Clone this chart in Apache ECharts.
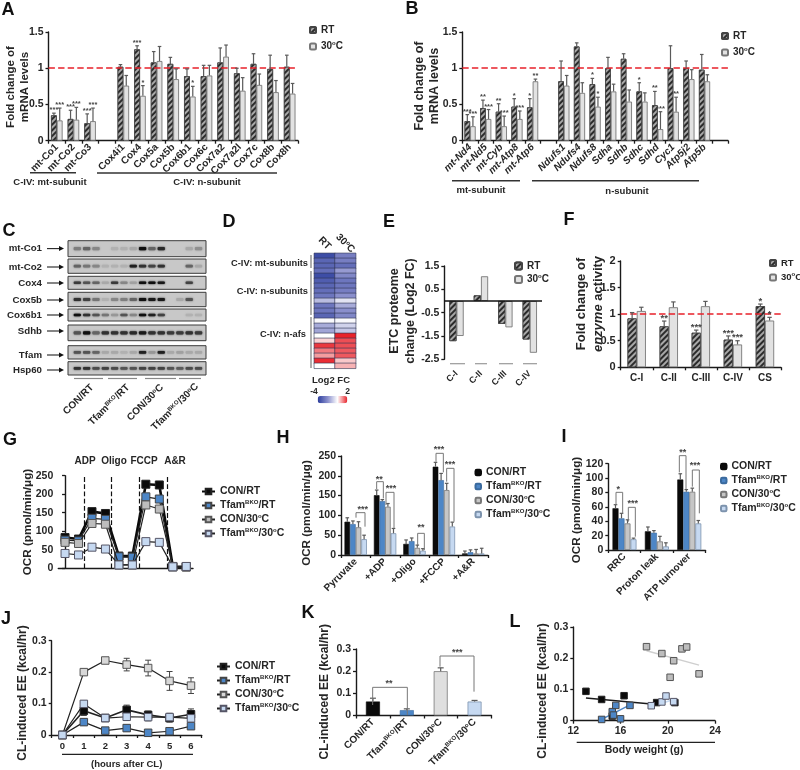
<!DOCTYPE html>
<html><head><meta charset="utf-8">
<style>html,body{margin:0;padding:0;background:#fff}#c{width:800px;height:770px;filter:blur(.35px)}</style>
<script src="https://cdn.jsdelivr.net/npm/echarts@6/dist/echarts.min.js"></script></head>
<body><div id="c"></div>
<script>
// ---------- DATA ----------
const aCats=['mt-Co1','mt-Co2','mt-Co3','','Cox4i1','Cox4','Cox5a','Cox5b','Cox6b1','Cox6c','Cox7a2','Cox7a2l','Cox7c','Cox8b','Cox8h'];
const aRT=[.35,.30,.24,null,1.02,1.26,1.08,1.06,.89,.89,1.08,.93,1.06,.99,1.02];
const a30=[.28,.29,.27,null,.76,.62,1.10,.85,.61,.90,1.16,.69,.77,.67,.65];
const aErrRT=[.03,.12,.13,0,.03,.05,.15,.09,.10,.15,.20,.07,.14,.19,.16];
const aErr30=[.17,.17,.18,0,.14,.14,.20,.14,.14,.14,.16,.18,.15,.16,.14];
const aStarRT=['***','***','***','','','***','','','','','','','','',''];
const aStar30=['***','***','***','','','*','','','*','','','','','',''];
const bCats=['mt-Nd4','mt-Nd5','mt-Cyb','mt-Atp8','mt-Atp6','','Ndufs1','Ndufs4','Ndufs8','Sdha','Sdhb','Sdhc','Sdhd','Cyc1','Atp5j2','Atp5b',' '];
const bRT=[.27,.45,.40,.47,.46,null,.82,1.30,.78,1.00,1.13,.68,.49,1.00,1.00,.98,null];
const b30=[.20,.30,.20,.30,.82,null,.76,.66,.47,.68,.54,.54,.16,.40,.85,.82,null];
const bErrRT=[.09,.11,.11,.11,.12,0,.28,.05,.08,.15,.07,.12,.19,.31,.10,.21,0];
const bErr30=[.13,.13,.14,.11,.03,0,.14,.14,.13,.10,.16,.12,.24,.20,.13,.09,0];
const bStarRT=['***','**','**','*','*','','','','*','','','*','**','','','',''];
const bStar30=['***','***','***','***','**','','','','*','','','','***','**','','',''];
const blotNames=['mt-Co1','mt-Co2','Cox4','Cox5b','Cox6b1','Sdhb','Tfam','Hsp60'];
const blotCo1=[.35,.5,.3,0,.05,.05,.1,1,.5,.85,0,0,.1,.25];
const blotCo2=[.5,.4,.3,.05,.05,.05,.9,.8,.7,.8,0,0,.5,.1];
const blotCox4=[.75,.6,.5,.1,.75,.3,.15,1,1,.95,0,0,.7,0];
const blotCox5b=[.8,.7,.4,.05,.3,.35,.5,1,.95,.95,0,.1,.6,0];
const blotCox6b1=[1,.8,.6,.4,.2,.6,.3,1,.9,.7,0,0,.05,.05];
const blotSdhb=[.6,1,.5,.8,.8,.8,.85,.95,.8,.8,.75,.75,.8,.75];
const blotTfam=[.6,.6,.5,.1,.1,.05,.1,.9,.2,.9,.1,.15,.1,.1];
const blotHsp60=[.8,.8,.65,.7,.65,.6,.6,.7,.7,.7,.6,.55,.65,.65];
const dCols=['RT','30°C'];
const dRT=[-3.6,-3,-3,-2.8,-3.6,-3.2,-3,-2.8,-2.6,-1.2,-2.6,-2.6,-3,-.1,-1.5,-1.6,0,.4,1.8,1.2,.9,1.9,0];
const d30=[-2.4,-2.4,-2.8,-1.8,-2.2,-2.6,-2.6,-2.4,-2,-.5,-1.5,-2,-2.2,-.1,-.8,-1,2,1.6,1.6,1.5,1.5,.5,.7];
const eCats=['C-I','C-II','C-III','C-IV'];
const eRT=[-1.72,.24,-.98,-1.65];
const e30=[-1.5,1.06,-1.13,-2.22];
const fCats=['C-I','C-II','C-III','C-IV','CS'];
const fRT=[.92,.77,.65,.52,1.15];
const f30=[1.06,1.13,1.15,.43,.88];
const fErrRT=[.11,.1,.05,.07,.04];
const fErr30=[.07,.1,.09,.07,.06];
const fStarRT=['','**','***','***','*'];
const fStar30=['','','','***','*'];
const gX=[0,1,2,3,4,5,6,7,8,9];
const gCon=[83,79,153,148,33,33,227,225,5,4];
const gTfam=[76,74,135,132,31,30,193,187,4,4];
const gCon30=[70,67,121,119,9,9,171,160,4,4];
const gTfam30=[40,36,57,52,9,9,72,70,4,5];
const gErr=[3,3,4,4,2,2,4,4,1,1];
const gMarks=[1.45,3.45,5.5,7.6];
const gMarkNames=['ADP','Oligo','FCCP','A&R'];
const hCats=['Pyruvate','+ADP','+Oligo','+FCCP','+A&R'];
const hCon=[84,151,28,223,4];
const hTfam=[78,136,35,189,7];
const hCon30=[70,122,18,164,4];
const hTfam30=[40,55,11,72,4];
const hErr=[[10,13,10,11,6],[8,4,8,17,6],[14,8,7,17,10],[10,12,5,11,13]];
const iCats=['RRC','Proton leak','ATP turnover'];
const iCon=[58,26,98];
const iTfam=[44,24,81];
const iCon30=[37,12,81];
const iTfam30=[15,5,37];
const iErr=[[5,6,8],[7,3,3],[5,7,5],[1.5,5,4]];
const jCats=['0','1','2','3','4','5','6'];
const jCon=[0,.077,.054,.08,.064,.054,.066];
const jTfam=[0,.041,.014,.022,.007,.012,.028];
const jCon30=[0,.2,.237,.224,.213,.172,.157];
const jTfam30=[0,.099,.054,.058,.057,.057,.053];
const jErr=[[0,.015,.008,.015,.012,.013,.017],[0,.01,.005,.01,.005,.008,.01],[0,.01,.008,.02,.025,.03,.025],[0,.01,.01,.012,.012,.012,.012]];
const kVals=[.063,.024,.2,.063];
const kErr=[.015,.006,.015,.005];
const lCon=[[13.07,.094],[14.4,.068],[16.3,.08],[15.3,.015],[19.06,.058],[20.6,.058]];
const lTfam=[[14.4,.004],[15.3,.029],[15.6,.049],[15.4,.018],[16,.006],[16.8,.049]];
const lCon30=[[18.2,.237],[19.5,.215],[20.5,.192],[20.2,.139],[21.2,.23],[21.6,.236],[22.65,.15]];
const lTfam30=[[18.6,.048],[19.5,.06],[19.85,.079],[20.5,.061]];
const lFitCon=[[13.07,.0725],[19.06,.052]];
const lFitTfam=[[14.4,.004],[16.8,.051]];
const lFitCon30=[[18.2,.224],[22.65,.178]];
const lFitTfam30=[[18.6,.045],[20.5,.068]];
const groups4=['CON/RT','TfamBKO/RT','CON/30°C','TfamBKO/30°C'];

// ---------- HELPERS ----------
const FF='"Liberation Sans",Arial,sans-serif', INK='#262626';
const grids=[],xAxes=[],yAxes=[],series=[],legends=[],gfx=[];
const supRich={s:{fontSize:6,fontWeight:'bold',fontFamily:FF,color:INK,verticalAlign:'top',padding:[0,0,3,0]}};
const supLeg={s:{fontSize:6,fontWeight:'bold',fontFamily:FF,color:INK,verticalAlign:'bottom',padding:[0,0,7,0]}};
function fmt(n){return n.replace('BKO','{s|BKO}').replace('°','{s|o}');}
const axisLine={show:true,lineStyle:{color:'#1a1a1a',width:1.4}};
const axisTick={show:true,length:3,lineStyle:{color:'#1a1a1a',width:1.3}};
function yAx(g,min,max,interval,fs){return {gridIndex:g,type:'value',min,max,interval,splitLine:{show:false},axisLine,axisTick,
  axisLabel:{fontFamily:FF,fontWeight:'bold',fontSize:fs||10.5,color:INK,margin:5}};}
function catAx(g,cats,o){o=o||{};return {gridIndex:g,type:'category',data:cats,splitLine:{show:false},axisLine,axisTick,
  axisLabel:Object.assign({fontFamily:FF,fontWeight:'bold',fontSize:10,color:INK,rotate:45,margin:5,interval:0,rich:supRich,formatter:fmt},o)};}
function addGrid(l,t,r,b){grids.push({left:l,top:t,width:r-l,height:b-t});return grids.length-1;}
const hatch={symbol:'rect',symbolSize:1,dashArrayX:[1,0],dashArrayY:[2,2],rotation:-Math.PI/4,color:'#2b2b2b',backgroundColor:'#a8a8a8'};
const RTs={color:'#555',borderColor:'#444',borderWidth:.8,decal:hatch};
const T30s={color:'#e2e2e2',borderColor:'#777',borderWidth:.9};
const C4=[{color:'#0a0a0a',borderColor:'#0a0a0a',borderWidth:.6},{color:'#4d86c6',borderColor:'#3a6a9e',borderWidth:.6},{color:'#c6c6c6',borderColor:'#777',borderWidth:.8},{color:'#c6d9f1',borderColor:'#7d93ad',borderWidth:.8}];
function errRender(off,capW,stars,starFs){return (p,api)=>{
  const v=api.value(1); if(v==null||isNaN(v))return;
  const i=api.value(0),e=api.value(2)||0,base=api.coord([i,v]),top=api.coord([i,v+e]);
  const x=base[0]+off,ch=[];
  if(e>0)ch.push({type:'line',shape:{x1:x,y1:base[1],x2:x,y2:top[1]},style:{stroke:'#5a5a5a',lineWidth:1.2}},
    {type:'line',shape:{x1:x-capW,y1:top[1],x2:x+capW,y2:top[1]},style:{stroke:'#5a5a5a',lineWidth:1.2}});
  const st=stars&&stars[p.dataIndex];
  if(st)ch.push({type:'text',style:{text:st,x:x,y:top[1]-3,align:'center',verticalAlign:'middle',fill:'#444',font:'bold '+(starFs||8)+'px '+FF}});
  return {type:'group',children:ch};
};}
function barPanel(g,prefix,names,vals,errs,stars,styles,barW,capW,starFs,extra){
  const n=names.length;
  vals.forEach((v,k)=>{
    const s={type:'bar',name:prefix+'|'+names[k],xAxisIndex:g,yAxisIndex:g,data:v.slice(),barWidth:barW,barGap:'0%',itemStyle:styles[k],silent:true};
    if(k===0&&extra)s.markLine=extra;
    series.push(s);
  });
  vals.forEach((v,k)=>{
    if(!errs||!errs[k])return;
    const off=(k-(n-1)/2)*barW;
    series.push({type:'custom',xAxisIndex:g,yAxisIndex:g,silent:true,z:5,clip:false,
      encode:{x:0,y:1},data:v.map((y,i)=>[i,y==null?'-':y,errs[k][i]]),
      renderItem:errRender(off,capW,stars&&stars[k],starFs)});
  });
}
function linePanelErr(g,yv,err){
  series.push({type:'custom',xAxisIndex:g,yAxisIndex:g,silent:true,z:1,clip:false,encode:{x:0,y:1},
    data:yv.map((y,i)=>[i,y,err[i]]),
    renderItem:(p,api)=>{const i=api.value(0),y=api.value(1),e=api.value(2);if(!e)return;
      const a=api.coord([i,y-e]),b=api.coord([i,y+e]);
      return {type:'group',children:[{type:'line',shape:{x1:a[0],y1:a[1],x2:b[0],y2:b[1]},style:{stroke:'#444',lineWidth:1}},
        {type:'line',shape:{x1:a[0]-3,y1:a[1],x2:a[0]+3,y2:a[1]},style:{stroke:'#444',lineWidth:1}},
        {type:'line',shape:{x1:b[0]-3,y1:b[1],x2:b[0]+3,y2:b[1]},style:{stroke:'#444',lineWidth:1}}]};}});
}
const redLine={silent:true,symbol:'none',animation:false,data:[{yAxis:1}],label:{show:false},lineStyle:{color:'#e8202a',type:'dashed',width:1.6}};
function T(text,x,y,o){o=o||{};gfx.push({type:'text',x,y,rotation:o.rot||0,silent:true,z:20,style:{text,x:0,y:0,align:o.align||'center',verticalAlign:'middle',
  font:'bold '+(o.fs||10.5)+'px '+FF,fill:o.fill||INK,lineHeight:o.lh,rich:o.rich}});}
function L(x1,y1,x2,y2,c,w){gfx.push({type:'line',silent:true,z:20,shape:{x1,y1,x2,y2},style:{stroke:c||'#333',lineWidth:w||1.4}});}
function yTitle(text,x,y,fs,lh){const r={s:{font:'bold '+fs+'px '+FF,fill:INK,lineHeight:lh||fs+2},i:{font:'italic bold '+fs+'px '+FF,fill:INK,lineHeight:lh||fs+2}};
  gfx.push({type:'text',x,y,rotation:Math.PI/2,silent:true,z:20,style:{text,x:0,y:0,align:'center',verticalAlign:'middle',font:'bold '+fs+'px '+FF,fill:INK,lineHeight:lh||fs+2,rich:r}});}
function brk(ox,oy,z1,z2,top,d1,d2,txt,tx,ty){
  const X=z=>ox+z/3,Y=z=>oy+z/3;
  gfx.push({type:'polyline',silent:true,z:20,shape:{points:[[X(z1),Y(d1)],[X(z1),Y(top)],[X(z2),Y(top)],[X(z2),Y(d2)]]},style:{stroke:'#777',lineWidth:1,fill:null}});
  T(txt,X(tx),Y(ty),{fs:9,fill:'#444'});
}
function leg(prefix,names,left,top,gap,w,h,fs){legends.push({show:true,orient:'vertical',left,top,padding:0,itemGap:gap,itemWidth:w,itemHeight:h,selectedMode:false,
  data:names.map(n=>prefix+'|'+n),formatter:n=>fmt(n.split('|').slice(1).join('|')),
  textStyle:{fontFamily:FF,fontWeight:'bold',fontSize:fs||10,color:INK,rich:supLeg,padding:[0,0,0,0]}});}

// ---------- PANELS ----------
// A
let g=addGrid(48.5,32,298,140.7);
xAxes.push(catAx(g,aCats));yAxes.push(yAx(g,0,1.5,.5));
barPanel(g,'A',['RT','30°C'],[aRT,a30],[aErrRT,aErr30],[aStarRT,aStar30],[RTs,T30s],5.8,1.8,7.5,redLine);
leg('A',['RT','30°C'],309,25,5,6,6);
yTitle('Fold change of\nmRNA levels',17.5,87,11.5,14);
L(30,172.7,76,172.7);L(97,173,277,173);
T('C-IV: mt-subunit',50,182,{fs:9.5});T('C-IV: n-subunit',207,182,{fs:9.5});
// B
g=addGrid(462.3,32,728,140.7);
xAxes.push(catAx(g,bCats,{fontStyle:'italic'}));yAxes.push(yAx(g,0,1.5,.5));
barPanel(g,'B',['RT','30°C'],[bRT,b30],[bErrRT,bErr30],[bStarRT,bStar30],[RTs,T30s],5.6,1.8,7.5,redLine);
leg('B',['RT','30°C'],721,31,5,6,6);
yTitle('Fold change of\nmRNA levels',427.5,86,12.5,15);
L(452,180.7,520,180.7);L(532,180.7,699,180.7);
T('mt-subunit',481,190,{fs:9.5});T('n-subunit',627,191,{fs:9.5});
// C blots
const blotRows=[[blotCo1,240.7,256.7,248.6],[blotCo2,259,273.3,267],[blotCox4,276.3,289.3,283],[blotCox5b,292.3,306.7,300],[blotCox6b1,309,321,315],[blotSdhb,325,340.7,331],[blotTfam,345.7,359,355],[blotHsp60,361.7,375,370]];
blotRows.forEach((r,k)=>{
  const gi=grids.length;
  grids.push({left:68,top:r[1],width:138,height:r[2]-r[1],show:true,backgroundColor:'#c8c8c8',borderColor:'#3a3a3a',borderWidth:1});
  xAxes.push({gridIndex:gi,type:'value',min:-1,max:13.8,show:false});
  yAxes.push({gridIndex:gi,type:'value',min:0,max:1,show:false});
  series.push({type:'custom',xAxisIndex:gi,yAxisIndex:gi,silent:true,encode:{x:0,y:1},data:r[0].map((v,i)=>[i,v]),
    renderItem:(p,api)=>{const v=api.value(1);if(v<.03)return;const c=api.coord([api.value(0),.5]),w=api.size([.78,0])[0],h=api.size([0,.2])[1];
      const lv=Math.round(185-170*v),col='rgb('+lv+','+lv+','+lv+')';
      return {type:'rect',shape:{x:c[0]-w/2,y:c[1]-h/2,width:w,height:h,r:1},style:{fill:col,shadowBlur:2,shadowColor:col}};}});
  T(blotNames[k],42,r[3],{align:'right',fs:9.7});
  L(47,r[3],60,r[3],'#222',1.1);
  gfx.push({type:'polygon',silent:true,z:20,shape:{points:[[59,r[3]-2.5],[64,r[3]],[59,r[3]+2.5]]},style:{fill:'#111'}});
});
[[74,103],[108,137],[145,176],[179,201]].forEach(s=>L(s[0],378.5,s[1],378.5,'#888',1.2));
const blotEnd=[[92,386],[128,386],[162,386],[197,385]];
const supG={s:{font:'bold 6px '+FF,fill:INK,verticalAlign:'top',padding:[0,0,3,0]}};
groups4.forEach((n,k)=>T(fmt(n),blotEnd[k][0],blotEnd[k][1],{rot:Math.PI/4,align:'right',fs:10,rich:supG}));
// D heatmap
g=addGrid(314.3,253.3,355.7,368.3);
const dRows=dRT.map((_,i)=>String(i));
xAxes.push({gridIndex:g,type:'category',data:dCols,position:'top',axisLine:{show:false},axisTick:{show:false},
  axisLabel:{fontFamily:FF,fontWeight:'bold',fontSize:10,color:INK,rotate:45,margin:10,align:'center',verticalAlign:'middle',interval:0,rich:supRich,formatter:fmt}});
yAxes.push({gridIndex:g,type:'category',data:dRows,inverse:true,show:false});
const dIdx=series.length;
series.push({type:'heatmap',xAxisIndex:g,yAxisIndex:g,silent:true,
  data:dRT.map((v,i)=>[0,i,v]).concat(d30.map((v,i)=>[1,i,v])),
  itemStyle:{borderColor:'#2e3350',borderWidth:.6}});
L(311,255,311,268,'#777',1.2);L(311,271,311,315,'#777',1.2);L(311,317,311,368,'#777',1.2);
T('C-IV: mt-subunits',308,263,{align:'right',fs:9.3});T('C-IV: n-subunits',308,291,{align:'right',fs:9.3});T('C-IV: n-afs',306,334,{align:'right',fs:9.3});
T('Log2 FC',331,380,{fs:9.5});T('-4',314,391.5,{fs:8.5});T('2',347.7,391.5,{fs:8.5});
// E
g=addGrid(444.3,266,542,359.3);
xAxes.push(catAx(g,eCats,{margin:13,fontSize:9}));xAxes[xAxes.length-1].axisLine={show:false};xAxes[xAxes.length-1].axisTick={show:false};
yAxes.push(yAx(g,-2.5,1.5,1));
barPanel(g,'E',['RT','30°C'],[eRT,e30],null,null,[RTs,T30s],7.2,0,0,{silent:true,symbol:'none',animation:false,data:[{yAxis:0}],label:{show:false},lineStyle:{color:'#111',type:'solid',width:1.6}});
leg('E',['RT','30°C'],514,261,2,7,7);
yTitle('ETC proteome\nchange (Log2 FC)',403,311,12.5,16);
[[450,465],[475,487],[499,513],[523,537]].forEach(s=>L(s[0],363.7,s[1],363.7,'#999',1.2));
// F
g=addGrid(620.7,261,781,367.3);
xAxes.push(catAx(g,fCats,{rotate:0,margin:6}));yAxes.push(yAx(g,0,2,.5,11));
barPanel(g,'F',['RT','30°C'],[fRT,f30],[fErrRT,fErr30],[fStarRT,fStar30],[RTs,T30s],9.2,2.2,9.5,redLine);
leg('F',['RT','30°C'],769,258,3,6,6,9.5);
yTitle('{s|Fold change of}\n{i|enzyme} {s|activity}',590,304,13,17);
// G
g=addGrid(58.3,475.7,193,568.3);
xAxes.push({gridIndex:g,type:'value',min:-.5,max:9.5,interval:1,splitLine:{show:false},axisLine,axisTick:{show:false},axisLabel:{show:false}});
yAxes.push(yAx(g,0,250,50));
const lineStyles=[{c:'#0a0a0a',w:2.6},{c:'#222',w:1.2},{c:'#222',w:1.2},{c:'#222',w:1.2}];
const markerFill=['#0a0a0a','#4d86c6','#bdbdbd','#c6d9f1'];
const markerBorder=['#222','#444','#555','#556'];
[gCon,gTfam,gCon30,gTfam30].forEach((v,k)=>linePanelErr(g,v,gErr));
[gCon,gTfam,gCon30,gTfam30].forEach((v,k)=>{
  const s={type:'line',name:'G|'+groups4[k],xAxisIndex:g,yAxisIndex:g,data:v.map((y,i)=>[gX[i],y]),symbol:'rect',symbolSize:8,silent:true,
    lineStyle:{color:lineStyles[k].c,width:lineStyles[k].w},itemStyle:{color:markerFill[k],borderColor:markerBorder[k],borderWidth:1},z:3+k};
  if(k===0)s.markLine={silent:true,symbol:'none',animation:false,label:{show:false},data:gMarks.map(m=>({xAxis:m})),lineStyle:{color:'#111',type:'dashed',width:1.2}};
  series.push(s);
});
leg('G',groups4,201,486,2,13,7,10.5);
yTitle('OCR (pmol/min/μg)',28,522,11.7);
[85,114,144,175].forEach((x,k)=>T(gMarkNames[k],x,461,{fs:10}));
// H
g=addGrid(341,456,488,555);
xAxes.push(catAx(g,hCats));yAxes.push(yAx(g,0,250,50));
barPanel(g,'H',groups4,[hCon,hTfam,hCon30,hTfam30],hErr,null,C4,5.6,1.8);
leg('H',groups4,474.5,467,2,5.5,5.5,10.5);
yTitle('OCR (pmol/min/μg)',306.7,513,11.6);
brk(270,385,258,285,383,398,425,'***',278,373);
brk(270,385,320,340,290,312,340,'**',328,283);
brk(270,385,348,372,322,360,430,'***',363,311);
brk(270,385,443,463,445,480,495,'**',453,428);
brk(270,385,498,520,205,230,262,'***',507,195);
brk(270,385,530,552,250,290,410,'***',540,238);
// I
g=addGrid(608.3,463.7,705.5,550);
xAxes.push(catAx(g,iCats));yAxes.push(yAx(g,0,120,20));
barPanel(g,'I',groups4,[iCon,iTfam,iCon30,iTfam30],iErr,null,C4,6,1.8);
leg('I',groups4,720,461,2,5.5,5.5,10.5);
yTitle('OCR (pmol/min/μg)',577,510,11.7);
brk(530,385,258,278,322,360,385,'*',265,315);
brk(530,385,295,316,367,410,455,'***',308,355);
brk(530,385,448,468,212,262,312,'**',458,203);
brk(530,385,487,508,255,305,385,'***',495,242);
// J
g=addGrid(51.7,640.7,201.7,737.3);
xAxes.push(Object.assign(catAx(g,jCats,{rotate:0,margin:6,fontSize:9.5}),{name:'(hours after CL)',nameLocation:'middle',nameGap:24,nameTextStyle:{fontFamily:FF,fontWeight:'bold',fontSize:9.5,color:INK}}));
yAxes.push(yAx(g,0,.3,.1));
[jCon,jTfam,jCon30,jTfam30].forEach((v,k)=>linePanelErr(g,v,jErr[k]));
[jCon,jTfam,jCon30,jTfam30].forEach((v,k)=>series.push({type:'line',name:'J|'+groups4[k],xAxisIndex:g,yAxisIndex:g,data:v.slice(),symbol:'rect',symbolSize:7.5,silent:true,
  lineStyle:{color:'#222',width:k===0?1.6:1.2},itemStyle:{color:markerFill[k]==='#bdbdbd'?'#d8d8d8':markerFill[k],borderColor:markerBorder[k],borderWidth:1},z:3+k}));
leg('J',groups4,216,661,2,13,7,10.5);
yTitle('CL-induced EE (kcal/hr)',22.7,693,12);
L(62,754.3,193,754.3,'#222',1.2);
// K
g=addGrid(356,649,491.5,721.7);
xAxes.push(catAx(g,groups4));yAxes.push(yAx(g,0,.3,.1));
series.push({type:'bar',xAxisIndex:g,yAxisIndex:g,silent:true,barWidth:14,
  data:kVals.map((v,i)=>({value:v,itemStyle:i===2?{color:'#dfdfdf',borderColor:'#777',borderWidth:.8}:C4[i===3?3:i]}))});
series.push({type:'custom',xAxisIndex:g,yAxisIndex:g,silent:true,z:5,encode:{x:0,y:1},data:kVals.map((y,i)=>[i,y,kErr[i]]),renderItem:errRender(0,3,null)});
yTitle('CL-induced EE (kcal/hr)',325,691.7,12);
brk(270,580,308,412,322,375,405,'**',357,310);
brk(270,580,510,612,228,260,335,'***',562,217);
// L
g=addGrid(573.3,627,715,720.7);
xAxes.push({gridIndex:g,type:'value',min:12,max:24,interval:4,splitLine:{show:false},axisLine,axisTick,
  axisLabel:{fontFamily:FF,fontWeight:'bold',fontSize:10.5,color:INK,margin:5},
  name:'Body weight (g)',nameLocation:'middle',nameGap:24,nameTextStyle:{fontFamily:FF,fontWeight:'bold',fontSize:10.5,color:INK}});
yAxes.push(yAx(g,0,.3,.1));
[[lFitCon,'#1a1a1a',1.4],[lFitTfam,'#4d86c6',1.4],[lFitCon30,'#cfcfcf',1.4],[lFitTfam30,'#c6d9f1',1.4]].forEach(a=>series.push({type:'line',xAxisIndex:g,yAxisIndex:g,silent:true,symbol:'none',data:a[0],lineStyle:{color:a[1],width:a[2]},z:2}));
[lCon,lTfam,lCon30,lTfam30].forEach((d,k)=>series.push({type:'scatter',xAxisIndex:g,yAxisIndex:g,silent:true,symbol:'rect',symbolSize:6.5,data:d,itemStyle:{color:markerFill[k],borderColor:markerBorder[k],borderWidth:1,opacity:1},z:3+k}));
yTitle('CL-induced EE (kcal/hr)',543,691,12);
L(576.7,742.3,715,742.3,'#222',1.2);
// panel letters
[['A',8,10],['B',412,9],['C',9,231],['D',229,222],['E',389,222],['F',569,220],['G',10,440],['H',283,438],['I',564,437],['J',6,619],['K',308,613],['L',515,621.6]].forEach(a=>T(a[0],a[1],a[2],{fs:18,fill:'#111'}));

const chart=echarts.init(document.getElementById('c'),null,{renderer:'canvas'});
chart.setOption({animation:false,backgroundColor:'#fff',textStyle:{fontFamily:FF},
  grid:grids,xAxis:xAxes,yAxis:yAxes,series,legend:legends,
  visualMap:[{type:'continuous',seriesIndex:dIdx,dimension:2,min:-4,max:2,orient:'horizontal',left:317.7,top:396,itemWidth:7.3,itemHeight:29.6,padding:0,calculable:false,text:null,
    inRange:{color:['#2a3c9c','#8a8fcc','#ffffff','#e8222a']}}],
  graphic:{elements:gfx}});
</script></body></html>
